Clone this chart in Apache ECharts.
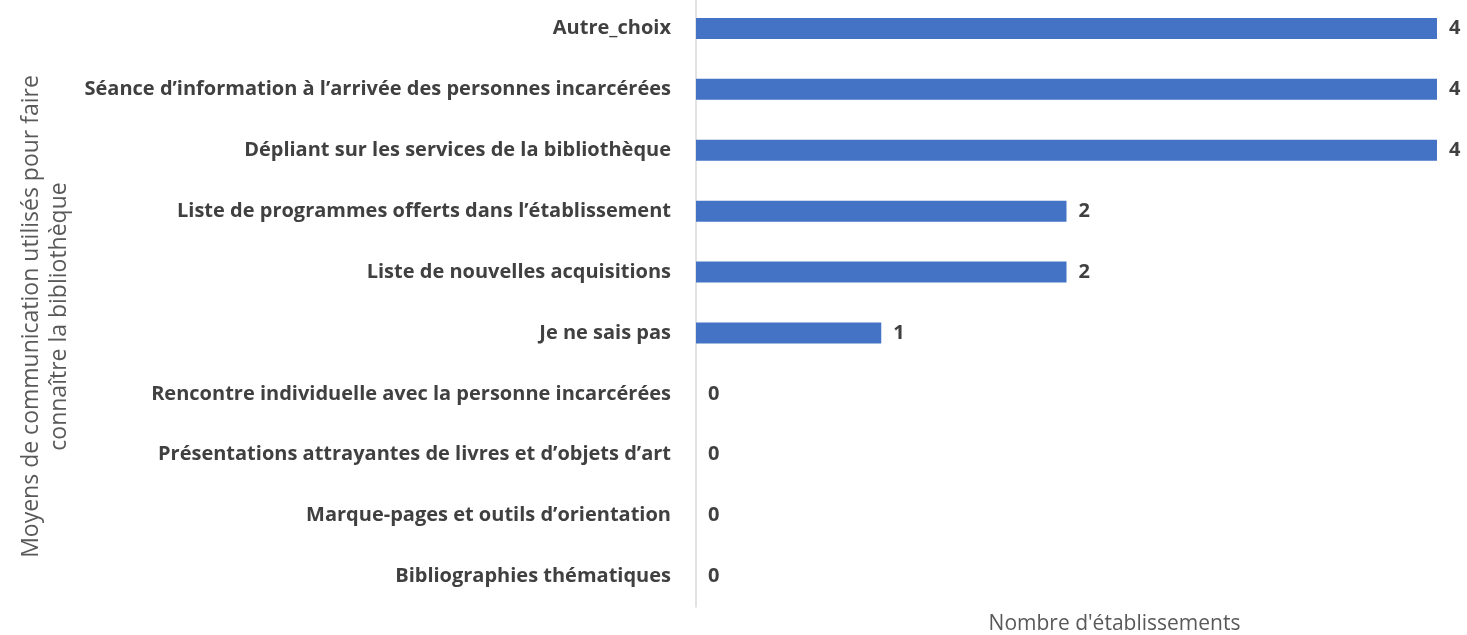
<!DOCTYPE html>
<html><head><meta charset="utf-8">
<script src="https://cdn.jsdelivr.net/npm/echarts@6/dist/echarts.min.js"></script>
<style>html,body{margin:0;padding:0;background:#fff}#c{width:1467px;height:635px}</style>
</head><body><div id="c"></div>
<script>
const categories = [
  "Autre_choix",
  "Séance d’information à l’arrivée des personnes incarcérées",
  "Dépliant sur les services de la bibliothèque",
  "Liste de programmes offerts dans l’établissement",
  "Liste de nouvelles acquisitions",
  "Je ne sais pas",
  "Rencontre individuelle avec la personne incarcérées",
  "Présentations attrayantes de livres et d’objets d’art",
  "Marque-pages et outils d’orientation",
  "Bibliographies thématiques"
];
const values = [4, 4, 4, 2, 2, 1, 0, 0, 0, 0];
const xAxisName = "Nombre d'établissements";
const yAxisName = "Moyens de communication utilisés pour faire\nconnaître la bibliothèque";

const chart = echarts.init(document.getElementById('c'));
chart.setOption({
  animation: false,
  grid: {left: 696, top: -2, width: 741, height: 609, containLabel: false, outerBoundsMode: 'none'},
  xAxis: {
    type: 'value', min: 0, max: 4, show: true,
    axisLine: {show: false}, axisTick: {show: false}, axisLabel: {show: false}, splitLine: {show: false},
    name: xAxisName, nameLocation: 'middle', nameGap: 7,
    nameTextStyle: {fontFamily: 'Open Sans', fontSize: 21, color: '#595959', padding: [0, 0, 0, 96]}
  },
  yAxis: {
    type: 'category', data: categories, inverse: true,
    axisLine: {show: true, lineStyle: {color: '#d9d9d9', width: 1.5}},
    axisTick: {show: false},
    axisLabel: {fontFamily: 'Open Sans', fontWeight: 'bold', fontSize: 20, color: '#404040', margin: 25},
    name: yAxisName, nameLocation: 'middle', nameGap: 622, nameRotate: 90,
    nameTextStyle: {fontFamily: 'Open Sans', fontSize: 23, color: '#595959', lineHeight: 28, align: 'center', padding: [0, 28, 0, 0]}
  },
  series: [{
    type: 'bar', data: values, barWidth: 21,
    itemStyle: {color: '#4472c4'},
    label: {show: true, position: 'right', distance: 12, fontFamily: 'Open Sans', fontWeight: 'bold', fontSize: 20, color: '#404040'}
  }]
});
</script></body></html>
